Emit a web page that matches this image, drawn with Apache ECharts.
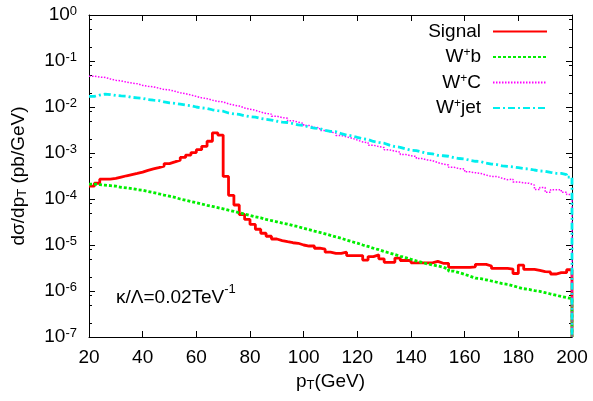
<!DOCTYPE html>
<html>
<head>
<meta charset="utf-8">
<script src="https://cdn.jsdelivr.net/npm/echarts@6/dist/echarts.min.js"></script>
<style>html,body{margin:0;padding:0;background:#fff;}#c{width:593px;height:401px;}</style>
</head>
<body>
<div id="c"></div>
<script>
// bin left edges (GeV)
const pT = [20,22,24,26,28,30,32,34,36,38,40,42,44,46,48,50,52,54,56,58,60,62,64,66,68,70,72,74,76,78,
  80,82,84,86,88,90,92,94,96,98,100,102,104,106,108,110,112,114,116,118,120,122,124,126,128,130,132,134,136,138,
  140,142,144,146,148,150,152,154,156,158,160,162,164,166,168,170,172,174,176,178,180,182,184,186,188,190,192,194,196,198];
const binEnd = 200;
const xTicks = [20,40,60,80,100,120,140,160,180,200];
const yMin = 1e-7, yMax = 1;

const signal = [
  1.9e-4,2.2e-4,2.7e-4,2.7e-4,2.8e-4,3.0e-4,3.2e-4,3.4e-4,3.6e-4,3.85e-4,
  4.2e-4,4.5e-4,4.8e-4,5.2e-4,5.9e-4,6.4e-4,7.0e-4,8.0e-4,9.0e-4,1.02e-3,
  1.18e-3,1.4e-3,1.8e-3,2.75e-3,2.45e-3,3.1e-4,1.2e-4,7.4e-5,4.6e-5,3.6e-5,
  2.8e-5,2.2e-5,1.8e-5,1.55e-5,1.35e-5,1.25e-5,1.18e-5,1.12e-5,1.09e-5,1.0e-5,
  9.5e-6,9.5e-6,8.5e-6,8.1e-6,7.0e-6,6.6e-6,6.6e-6,7.0e-6,5.9e-6,5.9e-6,
  5.9e-6,4.7e-6,5.6e-6,6.1e-6,5.0e-6,4.2e-6,4.2e-6,5.2e-6,4.6e-6,4.6e-6,
  4.1e-6,4.1e-6,4.1e-6,4.1e-6,4.4e-6,4.0e-6,4.0e-6,3.27e-6,3.27e-6,3.27e-6,
  3.27e-6,3.35e-6,3.8e-6,3.8e-6,3.5e-6,3.1e-6,3.1e-6,3.1e-6,3.0e-6,2.4e-6,
  3.67e-6,2.96e-6,2.96e-6,2.8e-6,2.63e-6,2.6e-6,2.34e-6,2.5e-6,2.5e-6,2.9e-6];
const wb = [
  2.1e-4,2.05e-4,2.0e-4,1.95e-4,1.9e-4,1.8e-4,1.75e-4,1.68e-4,1.6e-4,1.55e-4,
  1.45e-4,1.38e-4,1.3e-4,1.22e-4,1.15e-4,1.08e-4,1.0e-4,9.4e-5,8.8e-5,8.3e-5,
  7.8e-5,7.3e-5,6.9e-5,6.5e-5,6.1e-5,5.7e-5,5.4e-5,5.0e-5,4.7e-5,4.4e-5,
  4.1e-5,3.9e-5,3.6e-5,3.4e-5,3.2e-5,3.0e-5,2.85e-5,2.65e-5,2.5e-5,2.3e-5,
  2.15e-5,2.0e-5,1.88e-5,1.75e-5,1.62e-5,1.5e-5,1.4e-5,1.28e-5,1.18e-5,1.1e-5,
  1.0e-5,9.3e-6,8.5e-6,7.9e-6,7.2e-6,6.7e-6,6.2e-6,5.7e-6,5.3e-6,4.9e-6,
  4.5e-6,4.2e-6,3.9e-6,3.7e-6,3.5e-6,3.3e-6,3.0e-6,2.7e-6,2.5e-6,2.3e-6,
  2.1e-6,1.9e-6,1.85e-6,1.75e-6,1.65e-6,1.55e-6,1.45e-6,1.4e-6,1.3e-6,1.2e-6,
  1.12e-6,1.08e-6,1.02e-6,9.8e-7,9.2e-7,8.6e-7,8.1e-7,7.6e-7,7.2e-7,6.8e-7];
const wc = [
  0.0468,0.0447,0.0440,0.0407,0.0380,0.0370,0.0347,0.0331,0.0320,0.0295,
  0.0282,0.0275,0.0257,0.0240,0.0235,0.0219,0.0204,0.0195,0.0182,0.0170,
  0.0158,0.0152,0.0141,0.0132,0.0129,0.0117,0.0110,0.0105,0.00955,0.00891,
  0.0085,0.00776,0.00724,0.0070,0.00631,0.00589,0.0057,0.00501,0.00468,0.0044,
  0.00398,0.00363,0.0035,0.00309,0.00288,0.0027,0.0024,0.00224,0.0021,0.00191,
  0.00174,0.00168,0.00148,0.00138,0.00131,0.00117,0.0011,0.00104,0.000933,0.000871,
  0.00084,0.000759,0.000708,0.00068,0.000617,0.000575,0.00055,0.00049,0.000457,0.00045,
  0.000389,0.000372,0.00036,0.000331,0.000309,0.00031,0.000282,0.000263,0.00027,0.000234,
  0.000224,0.00022,0.0002,0.00016,0.000178,0.00014,0.000158,0.00016,0.000141,0.000125];
const wjet = [
  0.0170,0.0182,0.0191,0.0186,0.0178,0.0174,0.0172,0.0162,0.0158,0.0154,
  0.0145,0.0141,0.0138,0.0129,0.0123,0.0120,0.0115,0.0110,0.0107,0.0100,
  0.00955,0.0093,0.00871,0.00832,0.0081,0.00741,0.00708,0.0069,0.00646,0.00617,
  0.0060,0.00562,0.00537,0.0052,0.0049,0.00468,0.0046,0.00437,0.00407,0.0040,
  0.00363,0.00347,0.0034,0.00309,0.00295,0.0029,0.00263,0.00245,0.00236,0.00219,
  0.00204,0.00196,0.00178,0.0017,0.00163,0.00148,0.00138,0.00133,0.00123,0.00115,
  0.00113,0.00105,0.000977,0.00096,0.000891,0.000871,0.00085,0.000794,0.000759,0.00074,
  0.000692,0.000661,0.00065,0.000603,0.000575,0.00056,0.000525,0.000513,0.0005,0.000479,
  0.000457,0.00045,0.000427,0.000407,0.0004,0.00038,0.000363,0.00036,0.000339,0.0003];

const seriesNames = ['Signal','W+b','W+C','W+jet'];
const legendRich = {'Signal':'{t|Signal}','W+b':'{t|W}{s|+}{t|b}','W+C':'{t|W}{s|+}{t|C}','W+jet':'{t|W}{s|+}{t|jet}'};
const minorTickVals = [];
for (let e = -7; e < 0; e++) { [2,5,8].forEach(m => minorTickVals.push(m * Math.pow(10, e))); }

const FONT = 'Liberation Sans, Arial, Helvetica, sans-serif';

function hist(vals) {
  const d = pT.map((x, i) => [x, vals[i]]);
  d.push([binEnd, vals[vals.length - 1]]);
  d.push([binEnd, yMin]);
  return d;
}

const chart = echarts.init(document.getElementById('c'), null, {renderer: 'canvas'});
const baseY = {type: 'log', logBase: 10, min: yMin, max: yMax, splitLine: {show: false}};
const option = {
  backgroundColor: '#fff',
  animation: false,
  grid: {left: 89, top: 15, width: 483, height: 322, containLabel: false, outerBoundsMode: 'none'},
  xAxis: [
    {type: 'value', min: 20, max: 200, interval: 20, position: 'bottom',
     axisLine: {lineStyle: {color: '#000', width: 1}},
     axisTick: {inside: true, length: 6, lineStyle: {color: '#000'}},
     splitLine: {show: false},
     axisLabel: {color: '#000', fontSize: 19, fontFamily: FONT, margin: 11,
       formatter: v => xTicks.indexOf(v) >= 0 ? String(v) : ''},
     name: '{m|p}{sub|T}{m|(GeV)}', nameLocation: 'middle', nameGap: 35,
     nameTextStyle: {rich: {
       m: {fontSize: 19, fontFamily: FONT, color: '#000', lineHeight: 20},
       sub: {fontSize: 13, fontFamily: FONT, color: '#000', lineHeight: 14, verticalAlign: 'bottom'}}}},
    {type: 'value', min: 20, max: 200, interval: 20, position: 'top',
     axisLine: {lineStyle: {color: '#000', width: 1}},
     axisTick: {inside: true, length: 6, lineStyle: {color: '#000'}},
     axisLabel: {show: false}, splitLine: {show: false}}
  ],
  yAxis: [
    Object.assign({}, baseY, {position: 'left',
     axisLine: {show: true, lineStyle: {color: '#000', width: 1}},
     axisTick: {show: true, inside: true, length: 6, lineStyle: {color: '#000'}},
     axisLabel: {margin: 12, formatter: v => '{b|10}{s|' + Math.round(Math.log10(v)) + '}',
       rich: {b: {fontSize: 19, fontFamily: FONT, color: '#000', lineHeight: 20},
              s: {fontSize: 13, fontFamily: FONT, color: '#000', lineHeight: 13, verticalAlign: 'top'}}},
     name: '{m|dσ/dp}{sub|T}{m| (pb/GeV)}', nameLocation: 'middle', nameGap: 60,
     nameTextStyle: {rich: {
       m: {fontSize: 19, fontFamily: FONT, color: '#000', lineHeight: 20},
       sub: {fontSize: 13, fontFamily: FONT, color: '#000', lineHeight: 14, verticalAlign: 'bottom'}}}}),
    Object.assign({}, baseY, {position: 'right',
     axisLine: {show: true, lineStyle: {color: '#000', width: 1}},
     axisTick: {show: true, inside: true, length: 6, lineStyle: {color: '#000'}},
     axisLabel: {show: false}}),
    Object.assign({}, baseY, {position: 'left',
     axisLine: {show: false},
     axisTick: {show: true, inside: true, length: 3, customValues: minorTickVals, lineStyle: {color: '#000'}},
     axisLabel: {show: false}}),
    Object.assign({}, baseY, {position: 'right',
     axisLine: {show: false},
     axisTick: {show: true, inside: true, length: 3, customValues: minorTickVals, lineStyle: {color: '#000'}},
     axisLabel: {show: false}})
  ],
  legend: {
    orient: 'vertical', right: 45, top: 22, align: 'right', padding: 0,
    itemWidth: 54, itemHeight: 14, itemGap: 6,
    data: seriesNames,
    itemStyle: {opacity: 0},
    formatter: n => legendRich[n],
    textStyle: {padding: [0, 7, 0, 0], rich: {
      t: {fontSize: 19, fontFamily: FONT, color: '#000', lineHeight: 20},
      s: {fontSize: 12, fontFamily: FONT, color: '#000', lineHeight: 10, verticalAlign: 'top'}}}
  },
  graphic: [{
    type: 'text', left: 116, top: 283, silent: true,
    style: {text: '{m|κ/Λ=0.02TeV}{s|-1}', rich: {
      m: {fontSize: 19, fontFamily: FONT, fill: '#000', lineHeight: 30},
      s: {fontSize: 13, fontFamily: FONT, fill: '#000', lineHeight: 10, verticalAlign: 'top'}}}
  }],
  series: [
    {name: 'Signal', type: 'line', step: 'end', symbol: 'none', data: hist(signal),
     lineStyle: {color: '#ff0000', width: 2.8, type: 'solid'}, itemStyle: {color: '#ff0000'}},
    {name: 'W+b', type: 'line', step: 'end', symbol: 'none', data: hist(wb),
     lineStyle: {color: '#00ee00', width: 2.8, type: [3, 2]}, itemStyle: {color: '#00ee00'}},
    {name: 'W+C', type: 'line', step: 'end', symbol: 'none', data: hist(wc),
     lineStyle: {color: '#ff00ff', width: 1.5, type: [1.5, 1.5]}, itemStyle: {color: '#ff00ff'}},
    {name: 'W+jet', type: 'line', step: 'end', symbol: 'none', data: hist(wjet),
     lineStyle: {color: '#00eeee', width: 2.8, type: [7, 3, 2, 3]}, itemStyle: {color: '#00eeee'}}
  ]
};
chart.setOption(option);
</script>
</body>
</html>
